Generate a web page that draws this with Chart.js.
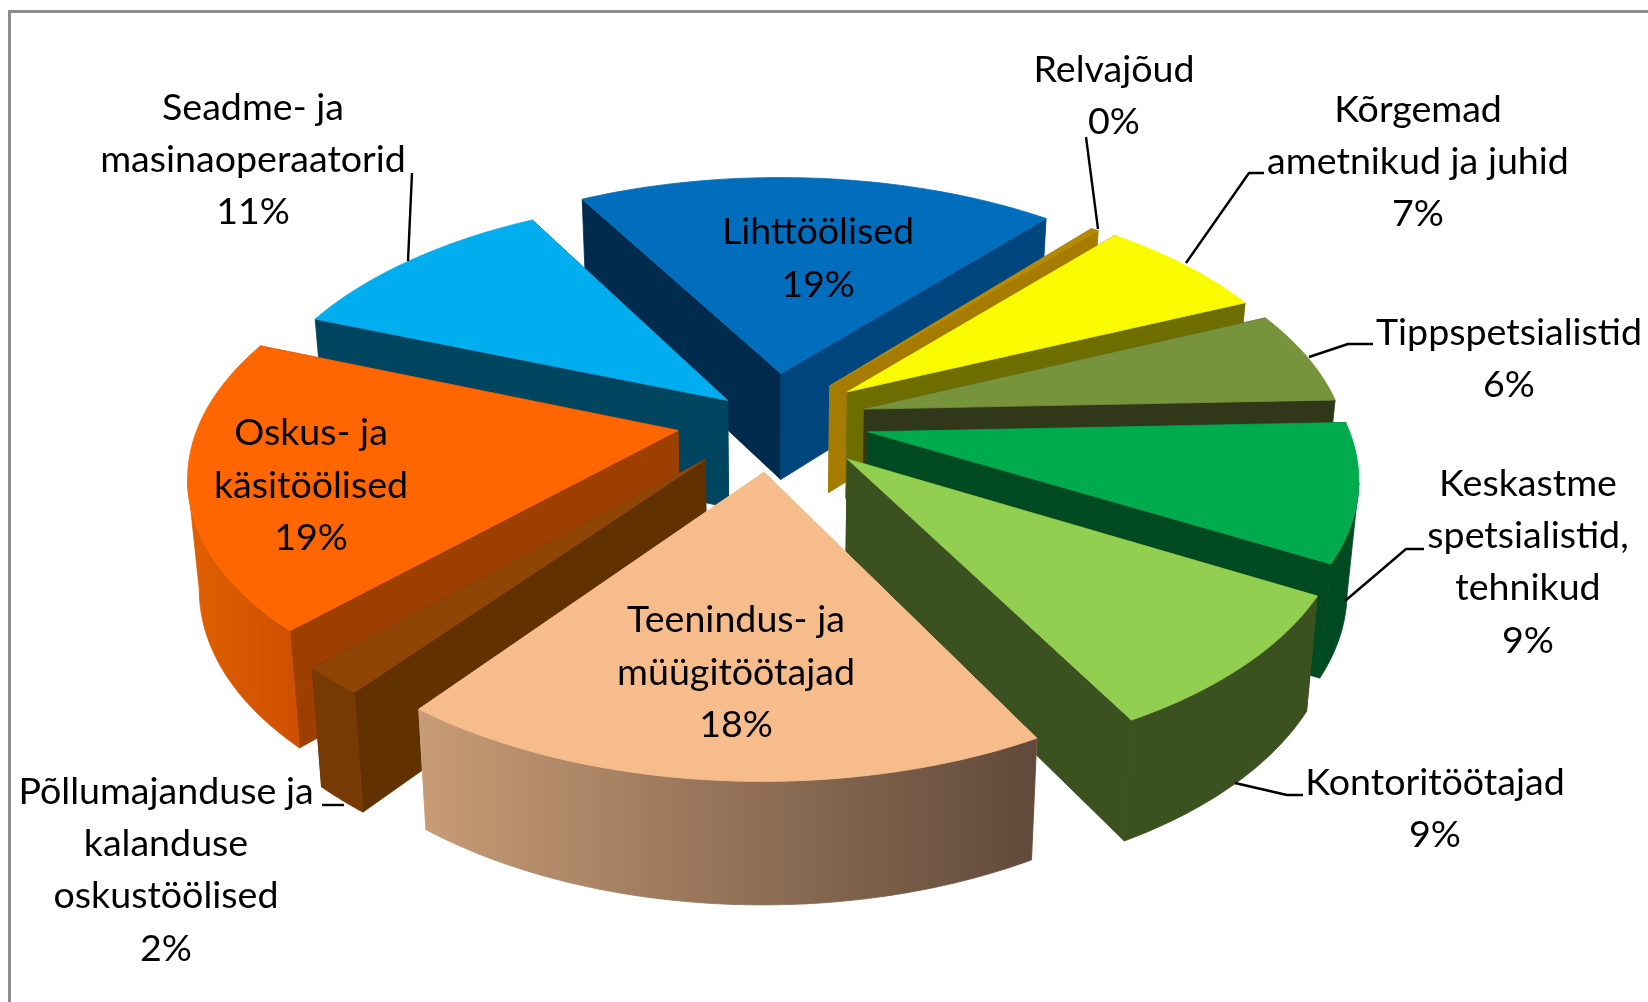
<!DOCTYPE html>
<html>
<head>
<meta charset="utf-8">
<title>Ametid</title>
<script src="https://cdn.jsdelivr.net/npm/chart.js@4"></script>
<style>
    body { margin: 0; background: #ffffff; }
    canvas { display: block; filter: blur(0.6px); }
</style>
</head>
<body>
<canvas id="myChart" width="1648" height="1002"></canvas>
<script>
'use strict';

// clockwise, starting at the slice right after Lihttöölised
let categories = ["Relvajõud", "Kõrgemad ametnikud ja juhid", "Tippspetsialistid", "Keskastme spetsialistid, tehnikud",
    "Kontoritöötajad", "Teenindus- ja müügitöötajad", "Põllumajanduse ja kalanduse oskustöölised",
    "Oskus- ja käsitöölised", "Seadme- ja masinaoperaatorid", "Lihttöölised"];
let shares = [0.3, 6.9, 6.1, 8.9, 8.9, 18.2, 1.8, 18.9, 11.0, 19.2];
let labelLines = [["Relvajõud"], ["Kõrgemad", "ametnikud ja juhid"], ["Tippspetsialistid"], ["Keskastme", "spetsialistid,", "tehnikud"],
    ["Kontoritöötajad"], ["Teenindus- ja", "müügitöötajad"], ["Põllumajanduse ja", "kalanduse", "oskustöölised"],
    ["Oskus- ja", "käsitöölised"], ["Seadme- ja", "masinaoperaatorid"], ["Lihttöölised"]];

// styles
let topColors = ["#b58900", "#fbfb00", "#77933c", "#00ab4e", "#92cf50", "#f6bc8b", "#8e4506", "#ff6600", "#00aeef", "#006dbd"];
let startPlaneColors = ["#a67c00", "#6e6e00", "#31381a", "#004a22", "#3b5120", "#f6bc8b", "#623100", "#9c3f00", "#004560", "#002b4d"];
let endPlaneColors = ["#a67c00", "#6e6e00", "#31381a", "#004a22", "#3b5120", "#f6bc8b", "#623100", "#9c3f00", "#004560", "#00467e"];
let wallLeftColors = ["#a67c00", "#6e6e00", "#31381a", "#004a22", "#3b5120", "#c89c76", "#773a05", "#e06000", "#004560", "#00467e"];
let wallRightColors = ["#a67c00", "#6e6e00", "#31381a", "#004a22", "#3b5120", "#60493a", "#773a05", "#cf5000", "#004560", "#00467e"];
let explode = [19, 20, 20, 20.5, 22, 21, 21, 20, 12.5, 20];

// label centres and line y positions, full size picture
let labelX = [1114, 1418, 1509, 1528, 1435, 736, 166, 311, 253, 818];
let labelY = [69.5, 109.5, 332.5, 483.5, 782.5, 620, 791.5, 433, 107.5, 232];
let lineGap = 52.4;
let leaders = [
    [[1086, 137], [1098, 229]],
    [[1264, 173], [1249, 173], [1186, 263]],
    [[1373, 344], [1348, 344], [1309, 357]],
    [[1424, 549], [1406, 549], [1345, 601]],
    [[1303, 795], [1287, 795], [1235, 783]],
    [[344, 805], [322, 805]],
    [[412, 173], [408, 261]]
];

const rimX = 478, rimY = 241, perspective = 0.16;
const wallHeight = 108, wallPull = 0.98;

function topPoint(arc, px, py) {
    let w = 1 / (1 - perspective * py);
    return { x: arc.x + rimX * px * w, y: arc.y + rimY * py * w, w: w };
}

function bottomPoint(arc, p) {
    return {
        x: arc.x + (p.x - arc.x) * wallPull,
        y: p.y + wallHeight * (1 + (p.w - 1) * 0.6)
    };
}

function fillPoly(ctx, pts, color) {
    ctx.beginPath();
    pts.forEach(function (p, i) {
        if (i === 0) ctx.moveTo(p.x, p.y); else ctx.lineTo(p.x, p.y);
    });
    ctx.closePath();
    ctx.fillStyle = color;
    ctx.strokeStyle = color;
    ctx.lineWidth = 0.8;
    ctx.lineJoin = "round";
    ctx.fill();
    ctx.stroke();
}

function drawSlice(ctx, arc, i) {
    let mid = (arc.startAngle + arc.endAngle) / 2;
    let shift = arc.options.offset / 100;
    let ax = Math.cos(mid) * shift, ay = Math.sin(mid) * shift;
    let apex = topPoint(arc, ax, ay);
    let rim = [];
    let steps = Math.max(2, Math.ceil((arc.endAngle - arc.startAngle) * 40));
    for (let s = 0; s <= steps; s++) {
        let a = arc.startAngle + (arc.endAngle - arc.startAngle) * s / steps;
        rim.push(topPoint(arc, ax + Math.cos(a), ay + Math.sin(a)));
    }
    let first = rim[0], last = rim[rim.length - 1];

    // the radial cuts
    fillPoly(ctx, [apex, first, bottomPoint(arc, first), bottomPoint(arc, apex)], startPlaneColors[i]);
    fillPoly(ctx, [apex, last, bottomPoint(arc, last), bottomPoint(arc, apex)], endPlaneColors[i]);

    // outer wall, only where it faces the viewer
    let front = rim.filter(function (p, s) {
        return (s < rim.length - 1 && rim[s + 1].x < p.x) || (s > 0 && p.x < rim[s - 1].x);
    });
    if (front.length > 1) {
        let lower = front.map(function (p) { return bottomPoint(arc, p); }).reverse();
        let xs = front.map(function (p) { return p.x; });
        let grad = ctx.createLinearGradient(Math.min.apply(null, xs), 0, Math.max.apply(null, xs), 0);
        grad.addColorStop(0, wallLeftColors[i]);
        grad.addColorStop(1, wallRightColors[i]);
        fillPoly(ctx, front.concat(lower), grad);
    }

    fillPoly(ctx, [apex].concat(rim), arc.options.backgroundColor);
}

let pie3d = {
    id: 'pie3d',
    beforeDatasetsDraw: function (chart) {
        let ctx = chart.ctx;
        let arcs = chart.getDatasetMeta(0).data;
        let order = arcs.map(function (arc, i) { return i; });
        // far slices first
        order.sort(function (a, b) {
            return Math.sin((arcs[a].startAngle + arcs[a].endAngle) / 2) - Math.sin((arcs[b].startAngle + arcs[b].endAngle) / 2);
        });
        order.forEach(function (i) { drawSlice(ctx, arcs[i], i); });
        return false;
    },
    afterDraw: function (chart) {
        let ctx = chart.ctx;
        let total = shares.reduce(function (a, b) { return a + b; }, 0);

        // frame, open on the right and at the bottom
        ctx.fillStyle = "#8c8c8c";
        ctx.fillRect(8, 10, 1640, 3);
        ctx.fillRect(8, 10, 3, 992);

        ctx.strokeStyle = "#000000";
        ctx.lineWidth = 2.4;
        leaders.forEach(function (line) {
            ctx.beginPath();
            line.forEach(function (p, i) {
                if (i === 0) ctx.moveTo(p[0], p[1]); else ctx.lineTo(p[0], p[1]);
            });
            ctx.stroke();
        });

        ctx.fillStyle = "#000000";
        ctx.font = "37.6px Lato";
        ctx.textAlign = "center";
        ctx.textBaseline = "middle";
        labelLines.forEach(function (lines, i) {
            let rows = lines.concat([Math.round(shares[i] / total * 100) + "%"]);
            rows.forEach(function (row, r) {
                ctx.fillText(row, labelX[i], labelY[i] + r * lineGap);
            });
        });
    }
};

let chart = new Chart(document.getElementById('myChart').getContext('2d'), {
    type: 'pie',
    data: {
        labels: categories,
        datasets: [{
            data: shares,
            backgroundColor: topColors,
            offset: explode,
            borderWidth: 0
        }]
    },
    options: {
        responsive: false,
        animation: false,
        rotation: 40,
        layout: { padding: { right: 104, bottom: 162 } },
        plugins: { legend: { display: false }, tooltip: { enabled: false } }
    },
    plugins: [pie3d]
});
</script>
</body>
</html>
